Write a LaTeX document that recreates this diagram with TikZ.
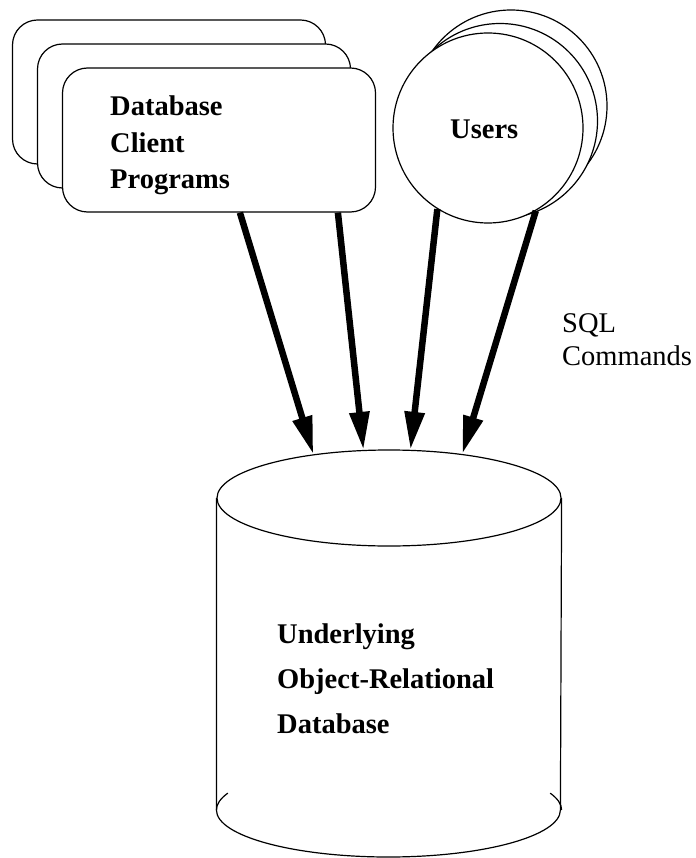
\documentclass[tikz,border=0pt]{standalone}
\usepackage{fontspec}
\setmainfont{Liberation Serif}
\usetikzlibrary{arrows.meta,shapes.geometric,calc}

\begin{document}
\begin{tikzpicture}[x=1pt,y=-1pt,
  outline/.style={draw=black, line width=1.2pt},
  card/.style={outline, fill=white, rounded corners=25pt,
    minimum width=313pt, minimum height=144pt, inner sep=0pt},
  disc/.style={outline, fill=white, circle, inner sep=0pt},
  boldtext/.style={font=\fontsize{28.5}{34}\selectfont\bfseries,
    anchor=base west, inner sep=0pt},
  plaintext/.style={font=\fontsize{28.5}{34}\selectfont,
    anchor=base west, inner sep=0pt},
  flow/.style={line width=6.5pt, -{Triangle[length=38pt,width=19pt]}},
]
\useasboundingbox (0,0) rectangle (695,858);

% stacked client-program cards
\node[card] (back2) at (169,92) {};
\node[card] (back1) at (194,116) {};
\node[card] (clients) at (219,140) {};
\node[boldtext] (cl1) at (110,116) {Database};
\node[boldtext] (cl2) at (110,153) {Client};
\node[boldtext] (cl3) at (110,189) {Programs};

% stacked user discs
\node[disc, minimum size=192pt] (users2) at (511,106) {};
\node[disc, minimum size=195pt] (users1) at (500,121) {};
\node[disc, minimum size=190pt] (users) at (488,128) {};
\node[boldtext] (ul) at (450,139) {Users};

% database cylinder
\node[ellipse, outline, minimum width=344pt, minimum height=96pt, inner sep=0pt] (dbtop) at (389,498) {};
\path (dbtop.west) ++(0,312) coordinate (dbbl);
\path (dbtop.east) ++(0,312) coordinate (dbbr);
\draw[outline] (dbtop.west) -- (dbbl)
  arc[start angle=180, end angle=360, x radius=172pt, y radius=47pt] -- (dbtop.east);
\draw[outline] (dbbl) arc[start angle=180, end angle=159, x radius=172pt, y radius=47pt];
\draw[outline] (dbbr) arc[start angle=0, end angle=21, x radius=172pt, y radius=47pt];
\node[boldtext] (db1) at (277,643) {Underlying};
\node[boldtext] (db2) at (277,688) {Object-Relational};
\node[boldtext] (db3) at (277,733) {Database};

% SQL command flows
\draw[flow] ([xshift=178pt]clients.south west) -- (dbtop.150);
\draw[flow] ([xshift=276pt]clients.south west) -- (dbtop.118);
\draw[flow] (users.238) -- (dbtop.66);
\draw[flow] (users.300) -- (dbtop.31);

\node[plaintext] (sql1) at (562,332) {SQL};
\node[plaintext] (sql2) at (562,365) {Commands};
\end{tikzpicture}
\end{document}
